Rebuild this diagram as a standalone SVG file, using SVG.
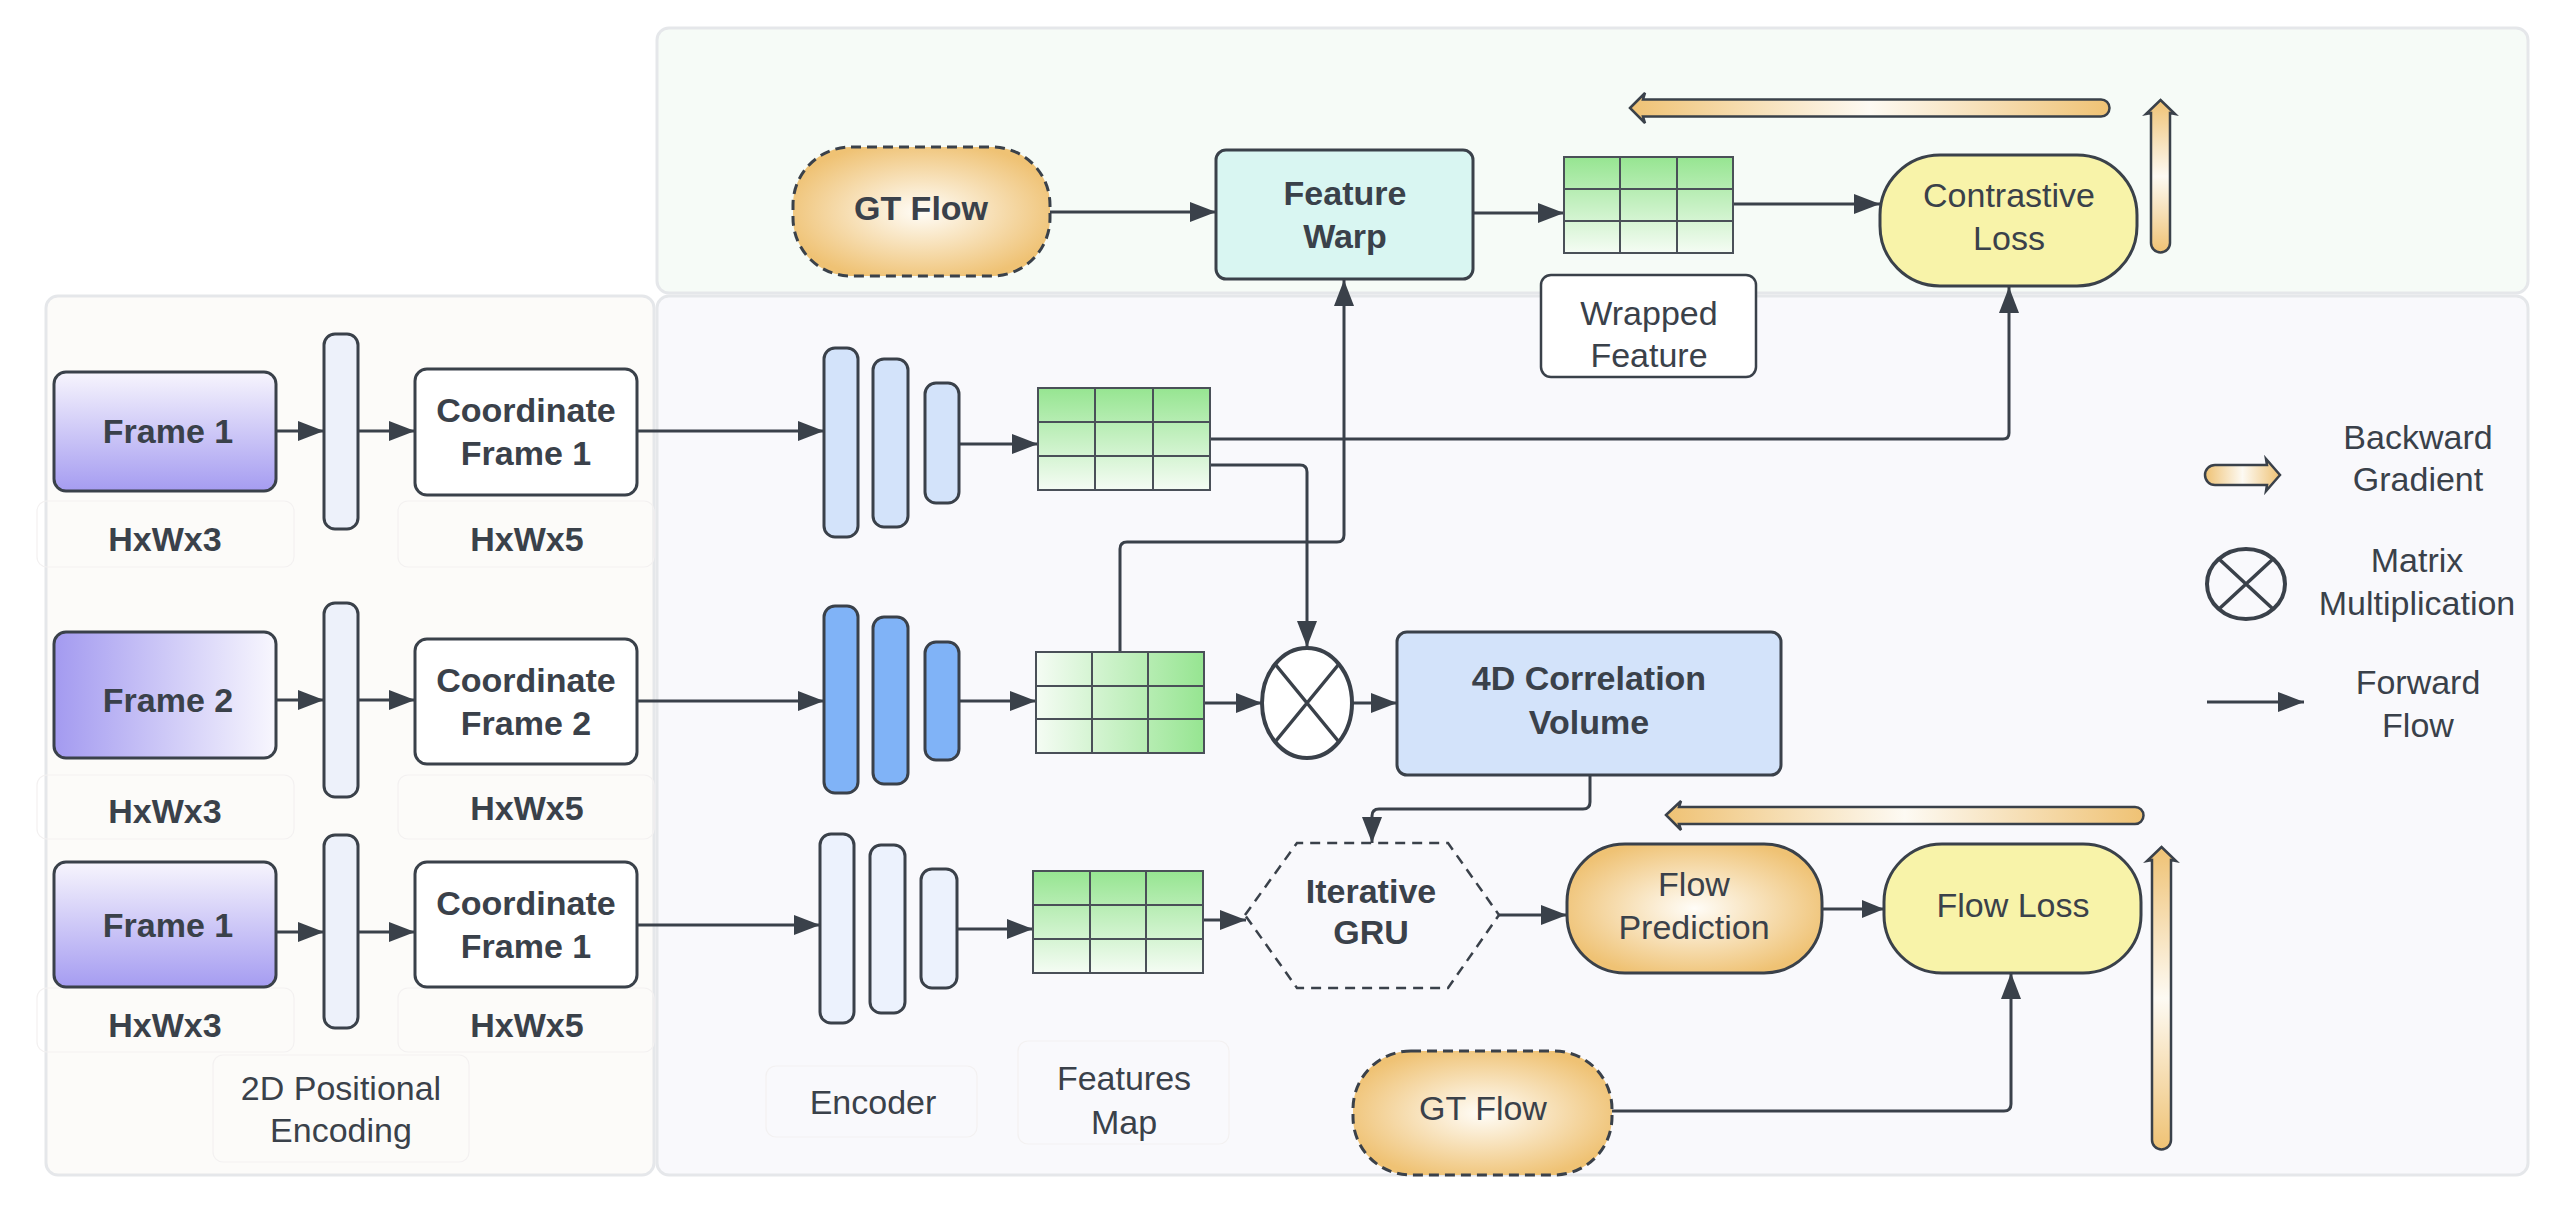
<svg xmlns="http://www.w3.org/2000/svg" width="2576" height="1208" viewBox="0 0 2576 1208">
<defs>
<style>
.t{font-family:"Liberation Sans",Arial,sans-serif;font-size:34px;fill:#3a414a;text-anchor:middle}
.b{font-weight:bold}
.box{stroke:#3a414a;stroke-width:3}
.ln{fill:none;stroke:#3a414a;stroke-width:3}
.lbl{fill:none;stroke:#f3f1f1;stroke-width:1.2}
.grid{stroke:#4a5058;stroke-width:2;fill:none}
.bw{stroke:#3a414a;stroke-width:2.5}
</style>
<marker id="ah" viewBox="0 0 26 20" refX="26" refY="10" markerWidth="26" markerHeight="20" markerUnits="userSpaceOnUse" orient="auto"><path d="M0,0 L26,10 L0,20 z" fill="#3a414a"/></marker>
<marker id="ahs" viewBox="0 0 22 18" refX="22" refY="9" markerWidth="22" markerHeight="18" markerUnits="userSpaceOnUse" orient="auto"><path d="M0,0 L22,9 L0,18 z" fill="#3a414a"/></marker>
<linearGradient id="fv" x1="0" y1="0" x2="0" y2="1"><stop offset="0" stop-color="#f7f5fd"/><stop offset="1" stop-color="#a59cf1"/></linearGradient>
<linearGradient id="fh" x1="0" y1="0" x2="1" y2="0"><stop offset="0" stop-color="#a39af0"/><stop offset="1" stop-color="#f8f7fe"/></linearGradient>
<linearGradient id="gv" x1="0" y1="0" x2="0" y2="1"><stop offset="0" stop-color="#96e591"/><stop offset="1" stop-color="#f5fcf4"/></linearGradient>
<linearGradient id="gh" x1="0" y1="0" x2="1" y2="0"><stop offset="0" stop-color="#f5fcf4"/><stop offset="1" stop-color="#96e591"/></linearGradient>
<radialGradient id="og" cx="0.5" cy="0.5" r="0.55"><stop offset="0" stop-color="#fffdf8"/><stop offset="1" stop-color="#efc274"/></radialGradient>
<linearGradient id="bh" x1="0" y1="0" x2="1" y2="0"><stop offset="0" stop-color="#efc274"/><stop offset="0.5" stop-color="#fdfaf3"/><stop offset="1" stop-color="#efc274"/></linearGradient>
<linearGradient id="bv" x1="0" y1="0" x2="0" y2="1"><stop offset="0" stop-color="#efc274"/><stop offset="0.5" stop-color="#fdfaf3"/><stop offset="1" stop-color="#efc274"/></linearGradient>
</defs>
<rect width="2576" height="1208" fill="#ffffff"/>

<g id="panels">
<rect x="657" y="28" width="1871" height="265" rx="12" fill="#f6fbf7" stroke="#e5e7ea" stroke-width="3"/>
<rect x="46" y="296" width="608" height="879" rx="12" fill="#fcfbf9" stroke="#e5e7ea" stroke-width="3"/>
<rect x="657" y="296" width="1871" height="879" rx="12" fill="#f9f9fc" stroke="#e5e7ea" stroke-width="3"/>
</g>

<g id="labels">
<rect class="lbl" x="37" y="501" width="257" height="66" rx="10"/>
<rect class="lbl" x="398" y="501" width="256" height="66" rx="10"/>
<rect class="lbl" x="37" y="775" width="257" height="64" rx="10"/>
<rect class="lbl" x="398" y="775" width="256" height="64" rx="10"/>
<rect class="lbl" x="37" y="988" width="257" height="64" rx="10"/>
<rect class="lbl" x="398" y="988" width="256" height="64" rx="10"/>
<rect class="lbl" x="213" y="1055" width="256" height="107" rx="10"/>
<rect class="lbl" x="766" y="1066" width="211" height="71" rx="10"/>
<rect class="lbl" x="1018" y="1041" width="211" height="103" rx="10"/>
<text class="t b" x="165" y="551">HxWx3</text>
<text class="t b" x="527" y="551">HxWx5</text>
<text class="t b" x="165" y="823">HxWx3</text>
<text class="t b" x="527" y="820">HxWx5</text>
<text class="t b" x="165" y="1037">HxWx3</text>
<text class="t b" x="527" y="1037">HxWx5</text>
<text class="t" x="341" y="1100">2D Positional</text>
<text class="t" x="341" y="1142">Encoding</text>
<text class="t" x="873" y="1114">Encoder</text>
<text class="t" x="1124" y="1090">Features</text>
<text class="t" x="1124" y="1134">Map</text>
</g>

<g id="connectors">
<line class="ln" x1="276" y1="431" x2="324" y2="431" marker-end="url(#ah)"/>
<line class="ln" x1="358" y1="431" x2="415" y2="431" marker-end="url(#ah)"/>
<line class="ln" x1="276" y1="700" x2="324" y2="700" marker-end="url(#ah)"/>
<line class="ln" x1="358" y1="700" x2="415" y2="700" marker-end="url(#ah)"/>
<line class="ln" x1="276" y1="932" x2="324" y2="932" marker-end="url(#ah)"/>
<line class="ln" x1="358" y1="932" x2="415" y2="932" marker-end="url(#ah)"/>
<line class="ln" x1="637" y1="431" x2="824" y2="431" marker-end="url(#ah)"/>
<line class="ln" x1="637" y1="701" x2="824" y2="701" marker-end="url(#ah)"/>
<line class="ln" x1="637" y1="925" x2="820" y2="925" marker-end="url(#ah)"/>
<line class="ln" x1="959" y1="444" x2="1038" y2="444" marker-end="url(#ah)"/>
<line class="ln" x1="959" y1="701" x2="1036" y2="701" marker-end="url(#ah)"/>
<line class="ln" x1="957" y1="929" x2="1033" y2="929" marker-end="url(#ah)"/>
<path class="ln" d="M1210,439 H2003 Q2009,439 2009,433 V287" marker-end="url(#ah)"/>
<path class="ln" d="M1210,465 H1300 Q1307,465 1307,472 V647" marker-end="url(#ah)"/>
<path class="ln" d="M1120,652 V549 Q1120,542 1127,542 H1337 Q1344,542 1344,535 V280" marker-end="url(#ah)"/>
<line class="ln" x1="1204" y1="703" x2="1262" y2="703" marker-end="url(#ah)"/>
<line class="ln" x1="1353" y1="703" x2="1397" y2="703" marker-end="url(#ah)"/>
<path class="ln" d="M1590,775 V802 Q1590,809 1583,809 H1379 Q1372,809 1372,816 V843" marker-end="url(#ah)"/>
<line class="ln" x1="1203" y1="920" x2="1246" y2="920" marker-end="url(#ah)"/>
<line class="ln" x1="1499" y1="915" x2="1567" y2="915" marker-end="url(#ah)"/>
<line class="ln" x1="1822" y1="909" x2="1884" y2="909" stroke-width="2" marker-end="url(#ahs)"/>
<path class="ln" d="M1612,1111 H2004 Q2011,1111 2011,1104 V973" marker-end="url(#ah)"/>
<line class="ln" x1="1050" y1="212" x2="1216" y2="212" marker-end="url(#ah)"/>
<line class="ln" x1="1473" y1="213" x2="1564" y2="213" marker-end="url(#ah)"/>
<line class="ln" x1="1733" y1="204" x2="1880" y2="204" marker-end="url(#ah)"/>
</g>

<g id="frame1-row1">
<rect class="box" x="54" y="372" width="222" height="119" rx="12" fill="url(#fv)"/>
<text class="t b" x="168" y="443">Frame 1</text>
</g>
<g id="posbar1"><rect class="box" x="324" y="334" width="34" height="195" rx="11" fill="#edf1fa"/></g>
<g id="coord1-row1">
<rect class="box" x="415" y="369" width="222" height="126" rx="12" fill="#ffffff"/>
<text class="t b" x="526" y="422">Coordinate</text>
<text class="t b" x="526" y="465">Frame 1</text>
</g>

<g id="frame2-row2">
<rect class="box" x="54" y="632" width="222" height="126" rx="12" fill="url(#fh)"/>
<text class="t b" x="168" y="712">Frame 2</text>
</g>
<g id="posbar2"><rect class="box" x="324" y="603" width="34" height="194" rx="11" fill="#edf1fa"/></g>
<g id="coord2-row2">
<rect class="box" x="415" y="639" width="222" height="125" rx="12" fill="#ffffff"/>
<text class="t b" x="526" y="692">Coordinate</text>
<text class="t b" x="526" y="735">Frame 2</text>
</g>

<g id="frame1-row3">
<rect class="box" x="54" y="862" width="222" height="125" rx="12" fill="url(#fv)"/>
<text class="t b" x="168" y="937">Frame 1</text>
</g>
<g id="posbar3"><rect class="box" x="324" y="835" width="34" height="193" rx="11" fill="#edf1fa"/></g>
<g id="coord1-row3">
<rect class="box" x="415" y="862" width="222" height="125" rx="12" fill="#ffffff"/>
<text class="t b" x="526" y="915">Coordinate</text>
<text class="t b" x="526" y="958">Frame 1</text>
</g>

<g id="encoder1">
<rect class="box" x="824" y="348" width="34" height="189" rx="11" fill="#d3e3fa"/>
<rect class="box" x="873" y="359" width="35" height="168" rx="11" fill="#d3e3fa"/>
<rect class="box" x="925" y="383" width="34" height="120" rx="11" fill="#d3e3fa"/>
</g>
<g id="encoder2">
<rect class="box" x="824" y="606" width="34" height="187" rx="11" fill="#80b3f7"/>
<rect class="box" x="873" y="617" width="35" height="167" rx="11" fill="#80b3f7"/>
<rect class="box" x="925" y="642" width="34" height="118" rx="11" fill="#80b3f7"/>
</g>
<g id="encoder3">
<rect class="box" x="820" y="834" width="34" height="189" rx="11" fill="#ecf2fd"/>
<rect class="box" x="870" y="845" width="35" height="168" rx="11" fill="#ecf2fd"/>
<rect class="box" x="921" y="869" width="36" height="119" rx="11" fill="#ecf2fd"/>
</g>

<g id="featmap1">
<rect x="1038" y="388" width="172" height="102" fill="url(#gv)"/>
<path class="grid" d="M1038,388 h172 v102 h-172 z M1095,388 v102 M1153,388 v102 M1038,422 h172 M1038,456 h172"/>
</g>
<g id="featmap2">
<rect x="1036" y="652" width="168" height="101" fill="url(#gh)"/>
<path class="grid" d="M1036,652 h168 v101 h-168 z M1092,652 v101 M1148,652 v101 M1036,686 h168 M1036,719 h168"/>
</g>
<g id="featmap3">
<rect x="1033" y="871" width="170" height="102" fill="url(#gv)"/>
<path class="grid" d="M1033,871 h170 v102 h-170 z M1090,871 v102 M1146,871 v102 M1033,905 h170 M1033,939 h170"/>
</g>
<g id="wrapped-grid">
<rect x="1564" y="157" width="169" height="96" fill="url(#gv)"/>
<path class="grid" d="M1564,157 h169 v96 h-169 z M1620,157 v96 M1677,157 v96 M1564,189 h169 M1564,221 h169"/>
</g>

<g id="matmul">
<ellipse cx="1307" cy="703" rx="45" ry="55" fill="#ffffff" stroke="#3a414a" stroke-width="4"/>
<path d="M1275,664 L1339,742 M1339,664 L1275,742" stroke="#3a414a" stroke-width="3.5" fill="none"/>
</g>
<g id="corr4d">
<rect class="box" x="1397" y="632" width="384" height="143" rx="10" fill="#d3e3fa"/>
<text class="t b" x="1589" y="690">4D Correlation</text>
<text class="t b" x="1589" y="734">Volume</text>
</g>
<g id="gru">
<polygon points="1245,915 1297,843 1448,843 1499,915 1448,988 1297,988" fill="none" stroke="#3a414a" stroke-width="2.5" stroke-dasharray="10 7"/>
<text class="t b" x="1371" y="903">Iterative</text>
<text class="t b" x="1371" y="944">GRU</text>
</g>
<g id="flowpred">
<rect class="box" x="1567" y="844" width="255" height="129" rx="58" fill="url(#og)"/>
<text class="t" x="1694" y="896">Flow</text>
<text class="t" x="1694" y="939">Prediction</text>
</g>
<g id="flowloss">
<rect class="box" x="1884" y="844" width="257" height="129" rx="58" fill="#f8f3a9"/>
<text class="t" x="2013" y="917">Flow Loss</text>
</g>
<g id="gtflow-bottom">
<rect x="1353" y="1051" width="259" height="124" rx="58" fill="url(#og)" stroke="#3a414a" stroke-width="3" stroke-dasharray="10 6"/>
<text class="t" x="1483" y="1120">GT Flow</text>
</g>

<g id="gtflow-top">
<rect x="793" y="147" width="257" height="129" rx="58" fill="url(#og)" stroke="#3a414a" stroke-width="3" stroke-dasharray="10 6"/>
<text class="t b" x="921" y="220">GT Flow</text>
</g>
<g id="featurewarp">
<rect class="box" x="1216" y="150" width="257" height="129" rx="10" fill="#d9f6f2"/>
<text class="t b" x="1345" y="205">Feature</text>
<text class="t b" x="1345" y="248">Warp</text>
</g>
<g id="wrapped-label">
<rect x="1541" y="275" width="215" height="102" rx="10" fill="#ffffff" stroke="#3a414a" stroke-width="2.5"/>
<text class="t" x="1649" y="325">Wrapped</text>
<text class="t" x="1649" y="367">Feature</text>
</g>
<g id="contrastive">
<rect class="box" x="1880" y="155" width="257" height="131" rx="60" fill="#f8f3a9"/>
<text class="t" x="2009" y="207">Contrastive</text>
<text class="t" x="2009" y="250">Loss</text>
</g>

<g id="backward-arrows">
<path class="bw" fill="url(#bh)" d="M1630,108 L1645,93 L1643,99.5 H2101 A8.5,8.5 0 0 1 2101,116.5 H1643 L1645,123 Z"/>
<path class="bw" fill="url(#bv)" d="M2160.5,100 L2175,114 L2170,113 V243 A9.5,9.5 0 0 1 2151,243 V113 L2146,114 Z"/>
<path class="bw" fill="url(#bh)" d="M1666,815 L1681,801 L1679,807 H2135 A8.5,8.5 0 0 1 2135,824 H1679 L1681,830 Z"/>
<path class="bw" fill="url(#bv)" d="M2161.5,847 L2176,861 L2171,860 V1140 A9.5,9.5 0 0 1 2152,1140 V860 L2147,861 Z"/>
</g>

<g id="legend">
<path class="bw" fill="url(#bh)" d="M2280,475 L2266,491 L2267,485 H2215 A10,10 0 0 1 2215,465 H2267 L2266,459 Z"/>
<text class="t" x="2418" y="449">Backward</text>
<text class="t" x="2418" y="491">Gradient</text>
<ellipse cx="2246" cy="584" rx="39" ry="35" fill="none" stroke="#3a414a" stroke-width="4"/>
<path d="M2219,559 L2273,609 M2273,559 L2219,609" stroke="#3a414a" stroke-width="3.5" fill="none"/>
<text class="t" x="2417" y="572">Matrix</text>
<text class="t" x="2417" y="615">Multiplication</text>
<line class="ln" x1="2207" y1="702" x2="2304" y2="702" marker-end="url(#ah)"/>
<text class="t" x="2418" y="694">Forward</text>
<text class="t" x="2418" y="737">Flow</text>
</g>
</svg>
